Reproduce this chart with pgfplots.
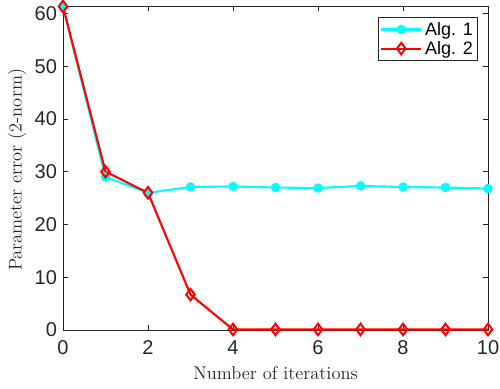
\documentclass[border=0pt]{standalone}
\usepackage{fontspec}
\newfontfamily\lib{Liberation Sans}
\usepackage{pgfplots}
\pgfplotsset{compat=1.18}
\definecolor{axgray}{RGB}{38,38,38}
\definecolor{mcyan}{RGB}{0,255,255}
\definecolor{mred}{RGB}{255,0,0}
\begin{document}
\begin{tikzpicture}
\useasboundingbox (-47.25pt,-44.25pt) rectangle (327.75pt,247.5pt);
\begin{axis}[
  at={(0pt,0pt)}, anchor=south west,
  scale only axis,
  width=318.75pt, height=243pt,
  xmin=0, xmax=10, ymin=0, ymax=61.4,
  xtick={0,2,...,10}, ytick={0,10,...,60},
  tick align=inside,
  major tick length=3.6pt,
  axis line style={axgray, line width=0.6pt},
  tick style={axgray, line width=0.6pt},
  /pgf/number format/assume math mode=true,
  tick label style={font=\fontsize{15}{17}\selectfont\lib, text=axgray},
  xticklabel style={yshift=-4.5pt},
  yticklabel style={xshift=-1pt},
  xlabel={Number of iterations},
  ylabel={Parameter error (2-norm)},
  label style={font=\fontsize{13.8}{15}\selectfont, text=axgray},
  xlabel style={at={(axis description cs:0.5,-0.154)}, anchor=base},
  ylabel style={at={(axis description cs:-0.108,0.494)}, anchor=center},
  clip=false,
  legend style={at={(0.976,0.966)}, anchor=north east, font=\fontsize{13.5}{15}\selectfont\lib,
    draw=axgray, line width=0.5pt, inner sep=1.5pt, row sep=-1pt},
  legend cell align=left,
  legend image code/.code={\draw[mark repeat=2,mark phase=2] plot coordinates {(0cm,0cm) (0.53cm,0cm) (1.06cm,0cm)};},
]
\addplot[mcyan, line width=1.6pt, mark=*, mark size=2.7pt, mark options={fill=mcyan, draw=mcyan}]
 coordinates {(0,61.3) (1,29.0) (2,26.0) (3,27.1) (4,27.2) (5,27.0) (6,26.9) (7,27.3) (8,27.1) (9,27.0) (10,26.8)};
\addlegendentry{Alg. 1}
\addplot[mred, line width=1.6pt, mark=diamond, mark size=4.3pt, mark options={draw=mred, fill=none, line width=1.5pt}]
 coordinates {(0,61.3) (1,30.0) (2,26.0) (3,6.7) (4,0.1) (5,0.1) (6,0.1) (7,0.1) (8,0.1) (9,0.1) (10,0.1)};
\addlegendentry{Alg. 2}
\end{axis}
\end{tikzpicture}
\end{document}
